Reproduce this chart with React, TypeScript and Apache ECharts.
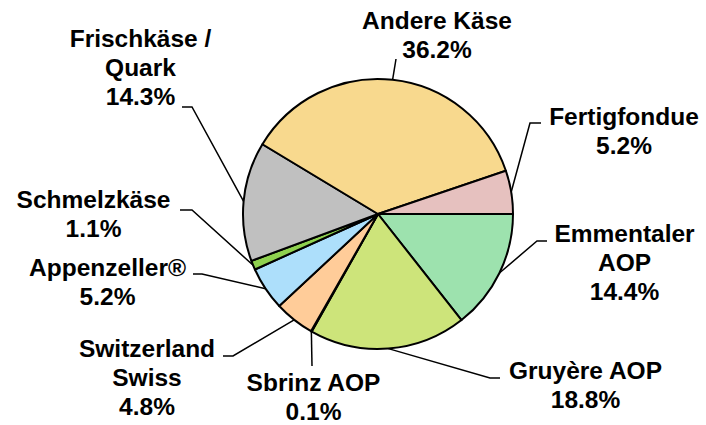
import React, { useEffect, useRef } from 'react';
import * as echarts from 'echarts';

const categories = [
  'Emmentaler\nAOP',
  'Gruyère AOP',
  'Sbrinz AOP',
  'Switzerland\nSwiss',
  'Appenzeller®',
  'Schmelzkäse',
  'Frischkäse /\nQuark',
  'Andere Käse',
  'Fertigfondue',
];
const shares = [14.4, 18.8, 0.1, 4.8, 5.2, 1.1, 14.3, 36.2, 5.2];
const sliceColors = [
  '#9DE2AE',
  '#CDE47A',
  '#E8E8A0',
  '#FFCC99',
  '#ADDFFB',
  '#8FD14F',
  '#C0C0C0',
  '#F8D98E',
  '#E6C1BF',
];

// label block centres and leader-line bend / end points (layout only)
const labelCenters: number[][] = [
  [624.5, 262],
  [585.5, 384.5],
  [313.5, 396.5],
  [147, 377],
  [107.5, 281.5],
  [93.5, 214],
  [140.5, 67],
  [437, 35],
  [624, 131],
];
const leaderTails: number[][][] = [
  [[537, 241], [547, 241]],
  [[490, 378], [500, 378]],
  [[312, 366]],
  [[233, 356], [223, 356]],
  [[202, 274], [193, 274]],
  [[192, 210], [180, 210]],
  [[192, 107], [182, 107]],
  [[396, 59]],
  [[530, 123], [541, 123]],
];

export default function App() {
  const ref = useRef<HTMLDivElement>(null);
  useEffect(() => {
    const chart = echarts.init(ref.current!, null, { renderer: 'svg' });
    chart.setOption({
      animation: false,
      backgroundColor: '#ffffff',
      series: [
        {
          type: 'pie',
          center: [378, 214],
          radius: 135,
          startAngle: 0,
          clockwise: true,
          avoidLabelOverlap: false,
          minShowLabelAngle: 0,
          itemStyle: { borderColor: '#000', borderWidth: 2 },
          label: {
            show: true,
            position: 'outside',
            color: '#000',
            fontFamily: '"Liberation Sans", Arial, Helvetica, sans-serif',
            fontWeight: 'bold',
            fontSize: 24.5,
            lineHeight: 29,
            align: 'center',
            formatter: (p: any) => `${p.name}\n${Number(p.value).toFixed(1)}%`,
          },
          labelLine: {
            show: true,
            length: 15,
            length2: 10,
            smooth: false,
            lineStyle: { color: '#000', width: 1.5 },
          },
          labelLayout: (params: any) => {
            const i = params.dataIndex;
            const [x, y] = labelCenters[i];
            const start = params.labelLinePoints ? params.labelLinePoints[0] : leaderTails[i][0];
            return {
              x,
              y,
              align: 'center',
              verticalAlign: 'middle',
              labelLinePoints: [start, ...leaderTails[i]],
            };
          },
          emphasis: { disabled: true },
          data: categories.map((name, i) => ({
            name,
            value: shares[i],
            itemStyle: { color: sliceColors[i] },
          })),
        },
      ],
    });
    return () => chart.dispose();
  }, []);
  return (
    <div
      ref={ref}
      style={{ position: 'fixed', left: 0, top: 0, width: 706, height: 425 }}
    />
  );
}
